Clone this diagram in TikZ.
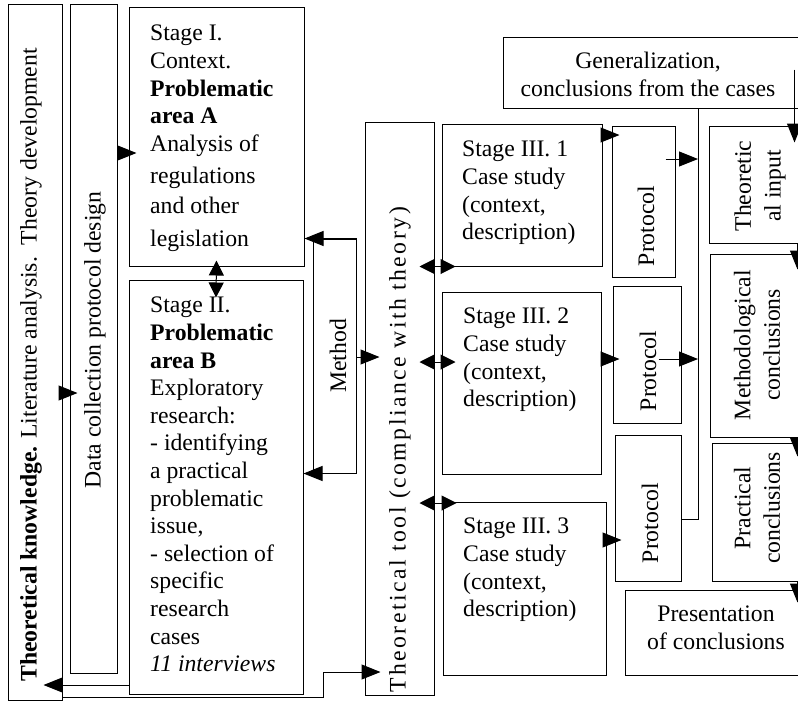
\documentclass[tikz,border=0pt]{standalone}
\usepackage{fontspec}
\setmainfont{Liberation Serif}
\usetikzlibrary{arrows.meta,fit,calc}
\begin{document}
\begin{tikzpicture}[x=1pt,y=-1pt,
  every node/.style={font=\fontsize{23.7}{27.6}\selectfont, inner sep=0pt},
  box/.style={draw, line width=1pt, inner sep=0pt},
  txt/.style={align=left, anchor=north west},
  vtxt/.style={rotate=90, align=center},
  arr/.style={line width=1pt, -{Triangle[length=19pt,width=15pt]}},
  darr/.style={line width=1pt, {Triangle[length=15pt,width=15pt]}-{Triangle[length=15pt,width=15pt]}},
  ln/.style={line width=1pt}]
\useasboundingbox (0,0) rectangle (798,702);
\clip (0,0) rectangle (798,702);
\fill[white] (0,0) rectangle (798,702);
% boxes
\node[box, fit={(8,4) (62,700)}] (tk) {};
\node[box, fit={(70,4) (117,673)}] (dc) {};
\node[box, fit={(129,7) (304,266)}] (s1) {};
\node[box, fit={(129,280) (303,694)}] (s2) {};
\node[box, fit={(313,239) (356,473)}] (me) {};
\node[box, fit={(365,122) (434,695)}] (tool) {};
\node[box, fit={(442,124) (602,266)}] (s31) {};
\node[box, fit={(442,292) (601,474)}] (s32) {};
\node[box, fit={(443,502) (606,675)}] (s33) {};
\node[box, fit={(612,126) (675,277)}] (p1) {};
\node[box, fit={(613,286) (681,423)}] (p2) {};
\node[box, fit={(615,435) (681,581)}] (p3) {};
\node[box, fit={(503,37) (811,108)}] (gen) {};
\node[box, fit={(709,126) (811,243)}] (ti) {};
\node[box, fit={(710,254) (811,437)}] (mc) {};
\node[box, fit={(712,443) (811,581)}] (pc) {};
\node[box, fit={(625,590) (807,675)}] (pr) {};
% texts
\node[vtxt] (tkT) at (31,365) {\textbf{Theoretical knowledge.} Literature analysis.\ \ Theory development};
\node[vtxt] (dcT) at (95,340) {Data collection protocol design};
\node[txt] (s1T) at (150,25) {Stage I.\\Context.\\\textbf{Problematic}\\\textbf{area A}\\Analysis of\\[4.5pt]regulations\\[3pt]and other\\[4.5pt]legislation};
\node[txt] (s2T) at (150,297) {Stage II.\\\textbf{Problematic}\\\textbf{area B}\\Exploratory\\research:\\- identifying\\a practical\\problematic\\issue,\\- selection of\\specific\\research\\cases\\\textit{11 interviews}};
\node[vtxt] (meT) at (338,356) {Method};
\node[vtxt] (toolT) at (400,450) {\addfontfeature{LetterSpace=10.5}Theoretical tool (compliance with theory)};
\node[txt] (s31T) at (462,141) {Stage III. 1\\Case study\\(context,\\description)};
\node[txt] (s32T) at (463,308) {Stage III. 2\\Case study\\(context,\\description)};
\node[txt] (s33T) at (463,518) {Stage III. 3\\Case study\\(context,\\description)};
\node[vtxt] (p1T) at (646,226) {Protocol};
\node[vtxt] (p2T) at (648,371) {Protocol};
\node[vtxt] (p3T) at (650,523) {Protocol};
\node[align=center, anchor=north] (genT) at (648,52) {Generalization,\\conclusions from the cases};
\node[vtxt] (tiT) at (760,186) {Theoretic\\[2pt]al input};
\node[vtxt] (mcT) at (757,345) {Methodological\\[2pt]conclusions};
\node[vtxt] (pcT) at (757,508) {Practical\\[2pt]conclusions};
\node[align=center, anchor=north] (prT) at (716,606) {Presentation\\of conclusions};
% connectors
\draw[arr] (tk.east |- 0,393) -- ($(dc.west |- 0,393)+(8,0)$);
\draw[arr] (dc.east |- 0,153) -- ($(s1.west |- 0,153)+(8,0)$);
\draw[darr] ($(s1.south)+(0,-6)$) -- ($(s2.north)+(0,18)$);
\draw[arr] (s2.west |- 0,685) -- ($(tk.east |- 0,685)+(-19,0)$);
\draw[arr] (tk.east |- 0,697) -| (323,672) -- ($(tool.west |- 0,672)+(16,0)$);
\draw[arr] (me.north east) -- (s1.east |- me.north);
\draw[arr] (me.south east) -- (s2.east |- me.south);
\draw[arr] (me.east |- 0,357) -- ($(tool.west |- 0,357)+(15,0)$);
\draw[darr] ($(tool.east |- s31.south)+(-15,0)$) -- ($(s31.west |- s31.south)+(14,0)$);
\draw[darr] ($(tool.east |- 0,362)+(-15,0)$) -- ($(s32.west |- 0,362)+(14,0)$);
\draw[darr] ($(tool.east |- 0,503)+(-15,0)$) -- ($(s33.west |- 0,503)+(14,0)$);
\draw[arr] (s31.east |- 0,135) -- ($(p1.west |- 0,135)+(8,0)$);
\draw[arr] (s32.east |- 0,359) -- ($(p2.west |- 0,359)+(7,0)$);
\draw[arr] (s33.east |- 0,540) -- ($(p3.west |- 0,540)+(7,0)$);
\coordinate (busb) at (698,519);
\draw[ln] (p3.east |- busb) -- (busb) -- (gen.south -| busb);
\draw[arr] ($(p1.east |- 0,159)+(-10,0)$) -- (busb |- 0,159);
\draw[arr] ($(p2.east |- 0,359)+(-23,0)$) -- (busb |- 0,359);
\draw[arr] ($(gen.north east)+(-17,33)$) -- ($(ti.north east)+(-17,17)$);
\draw[arr] ($(ti.south east)+(-14,0)$) -- ($(mc.north east)+(-14,16)$);
\draw[arr] ($(mc.south east)+(-14,0)$) -- ($(pc.north east)+(-14,14)$);
\draw[arr] ($(pc.south east)+(-14,0)$) -- ($(pr.north east)+(-10,13)$);
\end{tikzpicture}
\end{document}
